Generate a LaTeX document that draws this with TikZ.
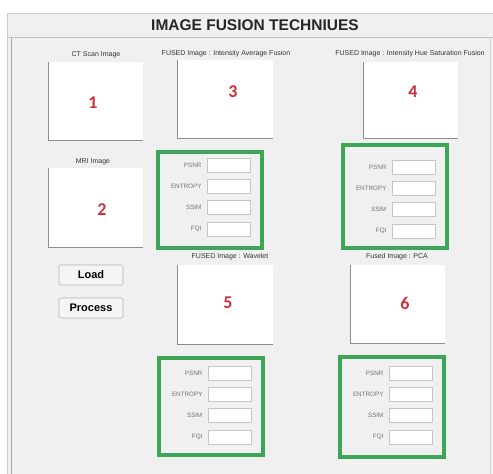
\documentclass[tikz,border=0pt]{standalone}
\usepackage{fontspec}
\setmainfont{Liberation Sans}
\newfontfamily\numfont{Carlito}
\usepackage{tikz}
\usetikzlibrary{positioning}
\definecolor{windowGray}{HTML}{F0F0F0}
\definecolor{frameGray}{HTML}{A8A8A8}
\definecolor{shadowGray}{HTML}{8C8C8C}
\definecolor{panelGreen}{HTML}{3DA556}
\definecolor{numberRed}{HTML}{C8323C}

\begin{document}
\begin{tikzpicture}[
  x=1pt, y=-1pt,
  shadow/.style={shadowGray, line width=1pt},
  imglbl/.style={font=\fontsize{7}{8}\selectfont, text=black!80},
  numlbl/.style={font=\fontsize{18}{20}\selectfont\numfont\bfseries, text=numberRed},
  metriclbl/.style={font=\fontsize{6.3}{7}\selectfont, text=black!55, anchor=east},
  fieldbox/.style={fill=white, draw=gray!45, line width=0.5pt},
  btn/.style={fill=gray!8, draw=gray!60, line width=0.6pt, rounded corners=1.5pt,
    minimum width=64pt, minimum height=20pt, font=\fontsize{11}{12}\selectfont\bfseries}
]
  \useasboundingbox (0,0) rectangle (493,474);

  % --- Ventana ---
  \fill[white] (0,0) rectangle (493,474);
  \fill[windowGray] (7,13) rectangle (493,474);
  \draw[frameGray!60, line width=0.6pt] (7,474) -- (7,13) -- (493,13);
  \draw[frameGray, line width=0.8pt] (11,474) -- (11,37);
  \draw[frameGray!70, line width=0.6pt] (7,37) -- (493,37);
  \draw[frameGray!50, line width=0.6pt] (490,37) -- (490,474);
  \node[font=\fontsize{15.5}{17}\selectfont\bfseries, text=black!85] (title) at (255,25) {IMAGE FUSION TECHNIUES};

  % --- Imagenes de entrada (1, 2) ---
  \fill[white] (48,62) rectangle (143,140);
  \draw[shadow] (48,62) |- (143,140);
  \node[imglbl] (ctlbl) at (96,55) {CT Scan Image};
  \node[numlbl] (num1) at (93,103) {1};

  \fill[white] (48,168) rectangle (143,247);
  \draw[shadow] (48,168) |- (143,247);
  \node[imglbl] (mrilbl) at (93,162) {MRI Image};
  \node[numlbl] (num2) at (102,210) {2};

  % --- Imagenes fusionadas (3, 4, 5, 6) ---
  \fill[white] (177,60) rectangle (273,138);
  \draw[shadow] (177,60) |- (273,138);
  \node[imglbl] (avglbl) at (226,54) {FUSED Image : Intensity Average Fusion};
  \node[numlbl] (num3) at (233,92) {3};

  \fill[white] (363,62) rectangle (458,138);
  \draw[shadow] (363,62) |- (458,138);
  \node[imglbl] (ihslbl) at (410,54) {FUSED Image : Intensity Hue Saturation Fusion};
  \node[numlbl] (num4) at (413,92) {4};

  \fill[white] (177,265) rectangle (273,344);
  \draw[shadow] (177,265) |- (273,344);
  \node[imglbl] (wavlbl) at (230,257) {FUSED Image : Wavelet};
  \node[numlbl] (num5) at (228,303) {5};

  \fill[white] (350,265) rectangle (445,343);
  \draw[shadow] (350,265) |- (445,343);
  \node[imglbl] (pcalbl) at (397,257) {Fused Image : PCA};
  \node[numlbl] (num6) at (405,303) {6};

  % --- Botones ---
  \node[btn] (load) at (91,275) {Load};
  \node[btn] (process) at (91,308) {Process};

  % --- Paneles de metricas (verde) ---
  \foreach \px/\py/\ph/\ry [count=\n] in {158/152/96/165, 343/145/103/167, 159/358/97/373, 340/357/100/373} {
    \draw[panelGreen, line width=3.5pt] (\px,\py) rectangle (\px+104,\py+\ph);
    \foreach \m [count=\k] in {PSNR, ENTROPY, SSIM, FQI} {
      \filldraw[fieldbox] (\px+49,\ry+21.3*\k-21.3-7) rectangle (\px+92,\ry+21.3*\k-21.3+7);
      \node[metriclbl] (lbl-\n-\k) at (\px+47,\ry+21.3*\k-21.3) {\m};
    }
  }
\end{tikzpicture}
\end{document}
